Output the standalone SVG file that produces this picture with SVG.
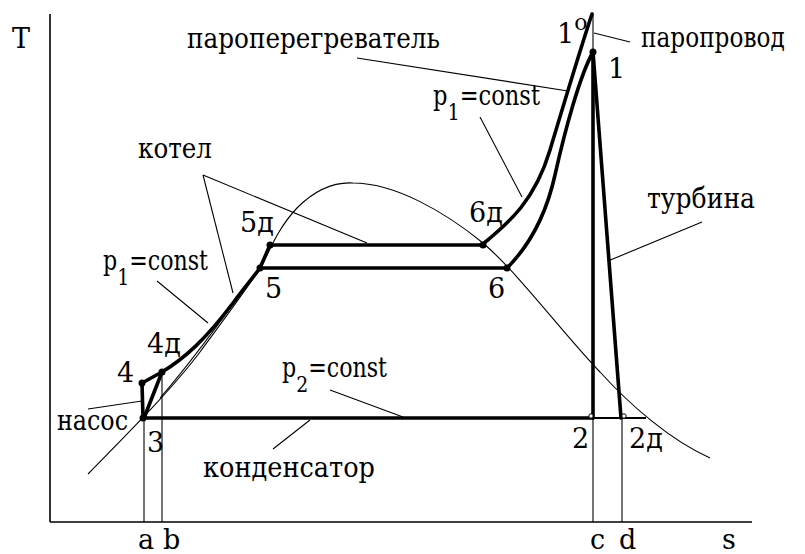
<svg xmlns="http://www.w3.org/2000/svg" width="805" height="554" viewBox="0 0 805 554">
<style>
text{font-family:'DejaVu Serif','Liberation Serif',serif;font-size:27px;fill:#000}
.ax{stroke:#000;stroke-width:1.6;fill:none}
.thin{stroke:#000;stroke-width:1.1;fill:none}
.thick{stroke:#000;stroke-width:3.6;fill:none;stroke-linejoin:round;stroke-linecap:round}
.lead{stroke:#000;stroke-width:1.1;fill:none}
.dot{fill:#000}
.sub{font-size:23px}
</style>
<rect width="805" height="554" fill="#fff"/>
<g id="axes">
<line class="ax" x1="50" y1="14" x2="50" y2="522"/>
<line class="ax" x1="50" y1="522" x2="752" y2="522"/>
<text x="12" y="48">T</text>
<text x="722" y="549">s</text>
<text x="138" y="549">a</text>
<text x="163" y="549">b</text>
<text x="590" y="549">c</text>
<text x="619" y="549">d</text>
</g>
<g id="saturation-curve">
<path class="thin" d="M88,474 C120,441 170,392 200,352 C225,318 250,285 262,265 C270,250 278,228 297,208 C315,190 335,182 353,183 C395,183 445,212 483,243 C520,275 560,330 600,372 C630,405 670,440 710,458"/>
<path class="thin" d="M160,398 C180,375 215,330 256,272"/>
</g>
<g id="verticals">
<line class="thin" x1="144" y1="418" x2="144" y2="522"/>
<line class="thin" x1="162" y1="374" x2="162" y2="522"/>
<line class="thin" x1="593" y1="418" x2="593" y2="522"/>
<line class="thin" x1="622" y1="418" x2="622" y2="522"/>
<line class="thin" x1="593" y1="14" x2="593" y2="52"/>
</g>
<g id="cycle">
<line class="thick" x1="143" y1="418" x2="142" y2="383"/>
<line class="thick" x1="144" y1="418" x2="162" y2="372"/>
<path class="thick" d="M142,383 L162,372 C185,358 205,340 233,303 C245,287 255,275 260,268 L270,245"/>
<line class="thick" x1="270" y1="245" x2="483" y2="245"/>
<line class="thick" x1="260" y1="268" x2="507" y2="268"/>
<path class="thick" d="M483,244 C510,222 535,200 550,150 C562,110 580,50 592,14"/>
<path class="thick" d="M507,268 C525,250 545,220 555,175 C565,130 580,75 593,52"/>
<line class="thick" x1="593" y1="52" x2="593" y2="418"/>
<line class="thick" x1="593" y1="52" x2="621" y2="418"/>
<line class="thick" x1="144" y1="418" x2="593" y2="418"/>
<line class="thin" x1="593" y1="418" x2="646" y2="418" style="stroke-width:1.8"/>
<circle class="dot" cx="143" cy="418" r="3.5"/>
<circle class="dot" cx="142" cy="383" r="3.5"/>
<circle class="dot" cx="162" cy="372" r="3.5"/>
<circle class="dot" cx="260" cy="268" r="3.5"/>
<circle class="dot" cx="270" cy="245" r="3.5"/>
<circle class="dot" cx="483" cy="245" r="3.5"/>
<circle class="dot" cx="507" cy="268" r="3.5"/>
<circle class="dot" cx="593" cy="52" r="3.5"/>
<circle cx="591" cy="416" r="2.2" fill="#fff" stroke="#000" stroke-width="1"/>
<circle cx="624" cy="416" r="2.2" fill="#fff" stroke="#000" stroke-width="1"/>
</g>
<g id="leaders">
<line class="lead" x1="594" y1="33" x2="630" y2="42"/>
<line class="lead" x1="357" y1="58" x2="568" y2="91"/>
<line class="lead" x1="480" y1="117" x2="522" y2="197"/>
<line class="lead" x1="203" y1="175" x2="367" y2="243"/>
<line class="lead" x1="203" y1="175" x2="233" y2="293"/>
<line class="lead" x1="157" y1="281" x2="208" y2="323"/>
<line class="lead" x1="88" y1="409" x2="142" y2="401"/>
<line class="lead" x1="330" y1="390" x2="403" y2="417"/>
<line class="lead" x1="273" y1="449" x2="310" y2="420"/>
<line class="lead" x1="702" y1="222" x2="608" y2="261"/>
</g>
<g id="labels">
<text x="187" y="48" textLength="253" lengthAdjust="spacingAndGlyphs">пароперегреватель</text>
<text transform="translate(641,47) scale(0.86,1)" x="0" y="0" font-size="25">паропровод</text>
<text x="557" y="43">1<tspan font-size="22" dy="-13">o</tspan></text>
<text x="608" y="78">1</text>
<text x="433" y="105" textLength="107" lengthAdjust="spacingAndGlyphs">p<tspan class="sub" dy="15">1</tspan><tspan dy="-15">=const</tspan></text>
<text x="138" y="158" textLength="74" lengthAdjust="spacingAndGlyphs">котел</text>
<text x="647" y="208" textLength="108" lengthAdjust="spacingAndGlyphs">турбина</text>
<text x="240" y="232">5д</text>
<text x="469" y="222">6д</text>
<text x="103" y="270" textLength="105" lengthAdjust="spacingAndGlyphs">p<tspan class="sub" dy="15">1</tspan><tspan dy="-15">=const</tspan></text>
<text x="265" y="298">5</text>
<text x="488" y="298">6</text>
<text x="147" y="353">4д</text>
<text x="117" y="382">4</text>
<text x="282" y="377" textLength="105" lengthAdjust="spacingAndGlyphs">p<tspan class="sub" dy="15">2</tspan><tspan dy="-15">=const</tspan></text>
<text x="57" y="430" textLength="71" lengthAdjust="spacingAndGlyphs">насос</text>
<text x="147" y="452">3</text>
<text x="203" y="477" textLength="172" lengthAdjust="spacingAndGlyphs">конденсатор</text>
<text x="572" y="448">2</text>
<text x="629" y="448">2д</text>
</g>
</svg>
